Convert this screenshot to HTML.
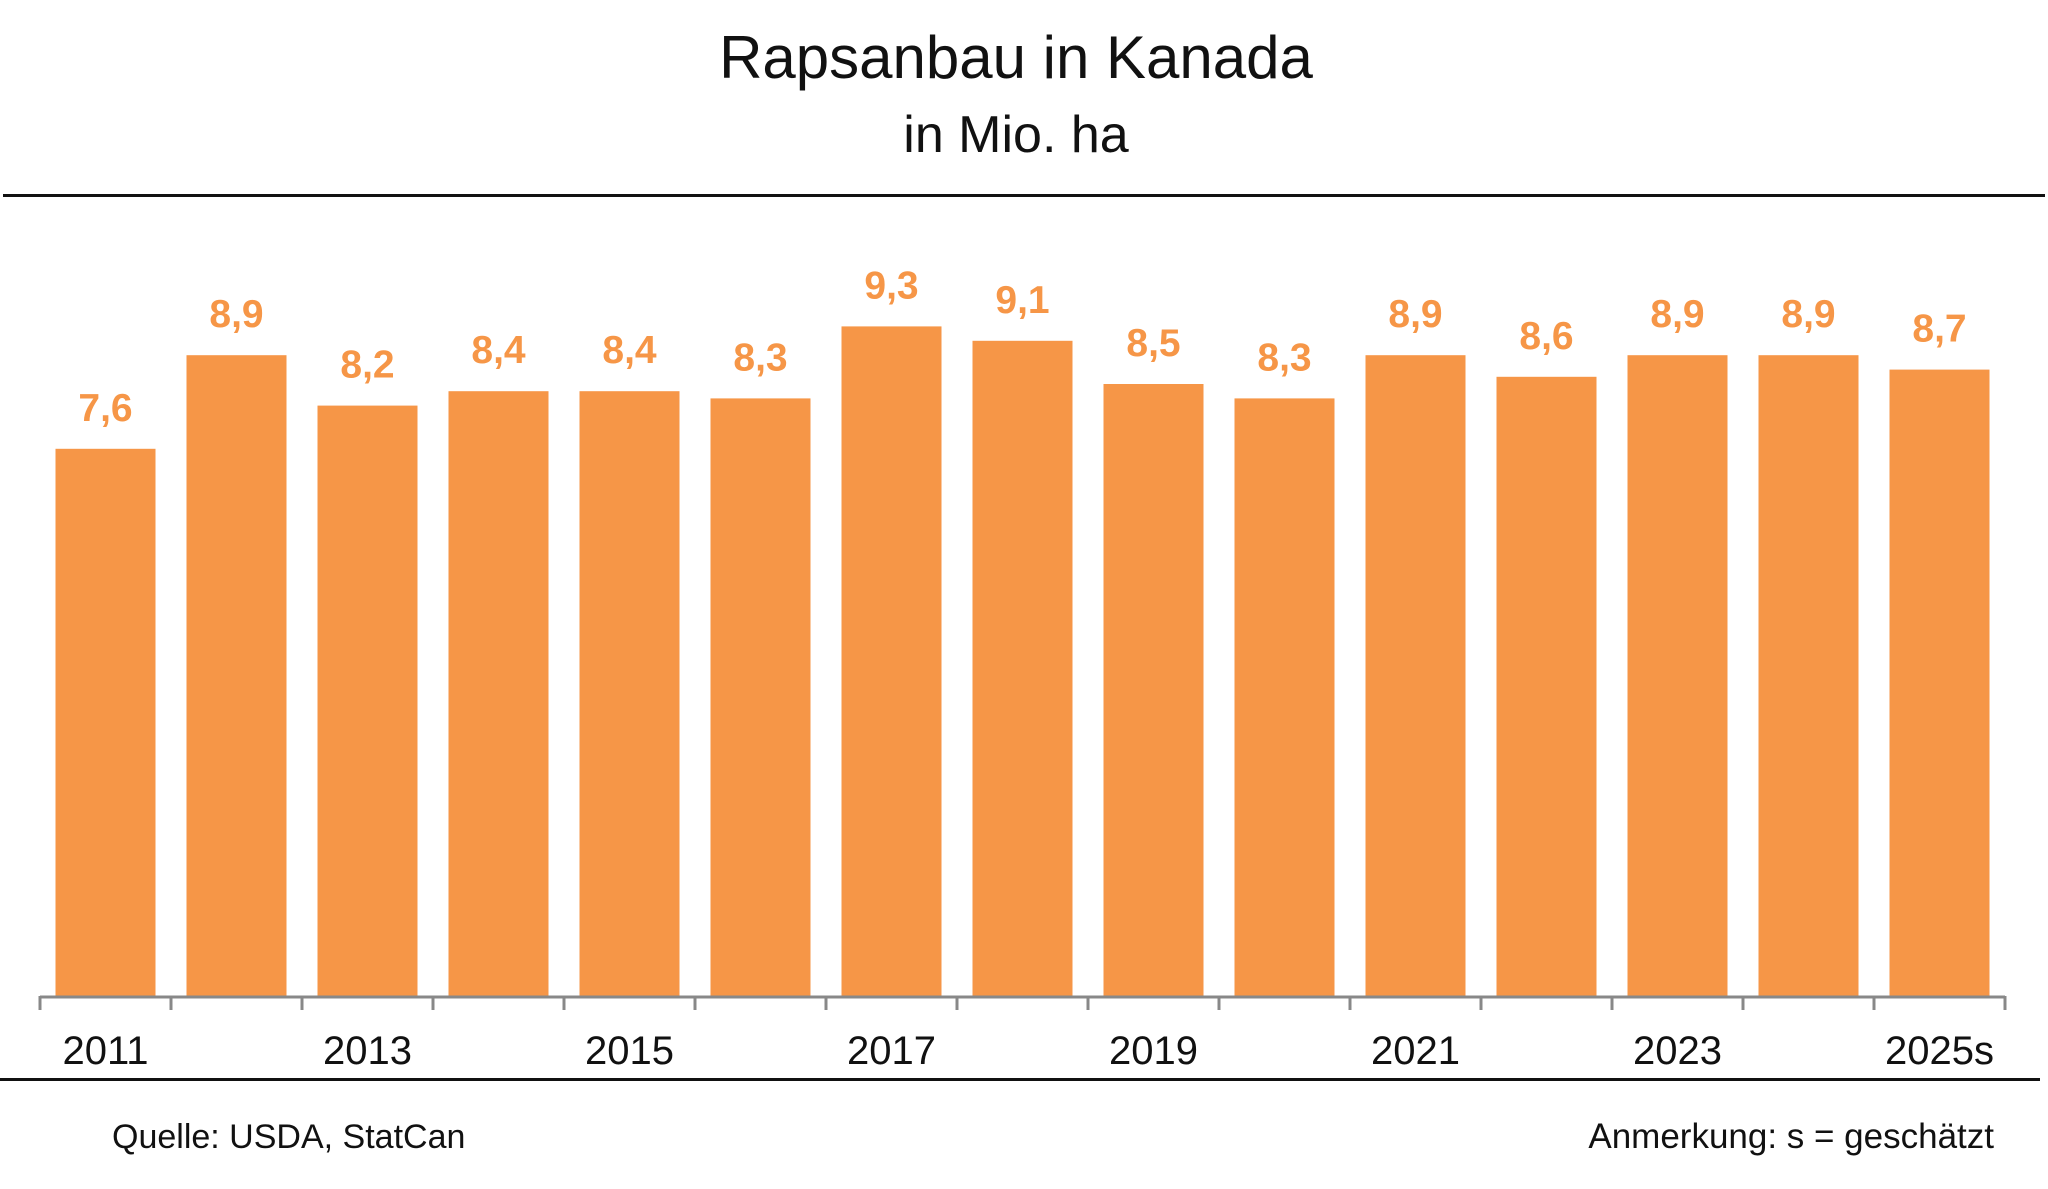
<!DOCTYPE html>
<html><head><meta charset="utf-8"><style>
html,body{margin:0;padding:0;background:#fff;}
svg{display:block;font-family:"Liberation Sans",sans-serif;}
</style></head><body>
<svg id="chart" width="2048" height="1189" viewBox="0 0 2048 1189">
<text x="1016" y="78" text-anchor="middle" font-size="60" fill="#111">Rapsanbau in Kanada</text>
<text x="1016" y="152" text-anchor="middle" font-size="52" fill="#111">in Mio. ha</text>
<rect x="3" y="194" width="2042" height="3" fill="#111"/>
<g id="bars"></g>
<g id="axis"></g>
<rect x="0" y="1078" width="2040" height="3" fill="#111"/>
<text x="112" y="1148" font-size="34" fill="#111">Quelle: USDA, StatCan</text>
<text x="1994" y="1148" text-anchor="end" font-size="35" fill="#111">Anmerkung: s = geschätzt</text>
</svg>
<script>
const categories = ["2011","2012","2013","2014","2015","2016","2017","2018","2019","2020","2021","2022","2023","2024","2025s"];
const values = [7.6,8.9,8.2,8.4,8.4,8.3,9.3,9.1,8.5,8.3,8.9,8.6,8.9,8.9,8.7];
const valueLabels = ["7,6","8,9","8,2","8,4","8,4","8,3","9,3","9,1","8,5","8,3","8,9","8,6","8,9","8,9","8,7"];
const tickLabels = ["2011","","2013","","2015","","2017","","2019","","2021","","2023","","2025s"];

const NS="http://www.w3.org/2000/svg";
const x0=40, x1=2005, base=996, pxPerUnit=72;
const slot=(x1-x0)/categories.length;
const xScale=i=>x0+slot*i;
const yScale=v=>base-v*pxPerUnit;
const bars=document.getElementById('bars');
const axis=document.getElementById('axis');
values.forEach((v,i)=>{
  const bw=100, cx=xScale(i)+slot/2;
  const r=document.createElementNS(NS,'rect');
  r.setAttribute('x',cx-bw/2);r.setAttribute('y',yScale(v));
  r.setAttribute('width',bw);r.setAttribute('height',base-yScale(v));
  r.setAttribute('fill','#F69647');
  
  
  bars.appendChild(r);
  const t=document.createElementNS(NS,'text');
  t.setAttribute('x',cx);t.setAttribute('y',yScale(v)-28);
  t.setAttribute('text-anchor','middle');t.setAttribute('font-size','39');
  t.setAttribute('font-weight','bold');t.setAttribute('fill','#F69647');
  t.textContent=valueLabels[i];
  
  
  bars.appendChild(t);
  if(tickLabels[i]){
    const l=document.createElementNS(NS,'text');
    l.setAttribute('x',cx);l.setAttribute('y',1064);
    l.setAttribute('text-anchor','middle');l.setAttribute('font-size','40');l.setAttribute('fill','#111');
    l.textContent=tickLabels[i];
    
    
    axis.appendChild(l);
  }
});
const line=document.createElementNS(NS,'line');
line.setAttribute('x1',x0);line.setAttribute('x2',x1);line.setAttribute('y1',997);line.setAttribute('y2',997);
line.setAttribute('stroke','#888');line.setAttribute('stroke-width','3');


axis.appendChild(line);
for(let i=0;i<=categories.length;i++){
  const tk=document.createElementNS(NS,'line');
  const x=xScale(i);
  tk.setAttribute('x1',x);tk.setAttribute('x2',x);tk.setAttribute('y1',996);tk.setAttribute('y2',1010);
  tk.setAttribute('stroke','#888');tk.setAttribute('stroke-width','3');
  
  
  axis.appendChild(tk);
}
</script>
</body></html>
